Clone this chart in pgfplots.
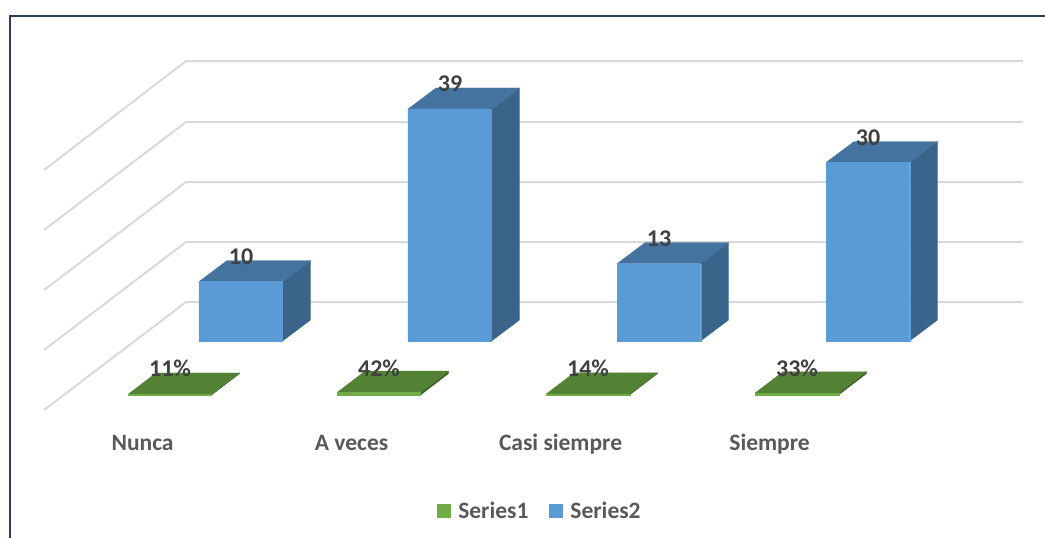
\documentclass[border=0pt]{standalone}
\usepackage{fontspec}
\setmainfont{Carlito}
\usepackage{pgfplots}
\pgfplotsset{compat=1.18}
\definecolor{gridc}{HTML}{D9D9D9}
\definecolor{framec}{HTML}{2F3E5E}
\definecolor{bfront}{HTML}{5B9BD5}
\definecolor{btop}{HTML}{44739F}
\definecolor{bside}{HTML}{3A6489}
\definecolor{gfront}{HTML}{70AD47}
\definecolor{gtop}{HTML}{548235}
\definecolor{gside}{HTML}{3F6128}
\definecolor{lab}{HTML}{404040}
\definecolor{txt}{HTML}{595959}
\pgfplotsset{
  base/.style={
    width=1045pt,height=538pt,scale only axis,
    axis line style={draw=none},tick style={draw=none},
    ytick=\empty,
  },
  face/.style={fill=#1,draw=#1,line width=0.2pt,forget plot},
  vals/.style={only marks,mark=none,forget plot,point meta=explicit symbolic,
    nodes near coords,
    nodes near coords style={anchor=base,yshift=#1,text=lab,
      font=\fontsize{24}{26}\selectfont\bfseries,inner sep=0pt}},
}
\begin{document}
\begin{tikzpicture}
% Series 2 with the walls, the frame and the category names
\begin{axis}[base,
  xmin=-1.15311,xmax=3.84689,ymin=-33.109,ymax=57.311,
  xtick={-0.47100,0.52900,1.52900,2.52900},
  xticklabels={Nunca,A veces,Casi siempre,Siempre},
  xticklabel style={anchor=base,yshift=88pt,inner sep=0pt,text=txt,
    font=\fontsize{23.5}{26}\selectfont\bfseries},
  major tick length=0pt,
  legend style={at={(rel axis cs:0.5167,0.050)},anchor=center,draw=none,fill=none,
    legend columns=2,inner sep=0pt,text=txt,
    font=\fontsize{23.5}{26}\selectfont\bfseries,
    /tikz/every even column/.append style={column sep=19pt}},
  legend image code/.code={\path[draw=none,fill=none] (0pt,0pt) -- (19pt,0pt);\fill[#1,draw=none] (0pt,-7pt) rectangle (14pt,7pt);},
]
% frame
\addplot[framec,line width=2pt,forget plot] coordinates {(-1.1053,-33.109)(-1.1053,54.67)(3.84689,54.67)};
% gridlines
\addplot[gridc,line width=2pt,forget plot] coordinates {(-0.94258,-11.597)(-0.26316,6.555)(3.74163,6.555)};
\addplot[gridc,line width=2pt,forget plot] coordinates {(-0.94258,-1.513)(-0.26316,16.639)(3.74163,16.639)};
\addplot[gridc,line width=2pt,forget plot] coordinates {(-0.94258,8.571)(-0.26316,26.723)(3.74163,26.723)};
\addplot[gridc,line width=2pt,forget plot] coordinates {(-0.94258,18.655)(-0.26316,36.807)(3.74163,36.807)};
\addplot[gridc,line width=2pt,forget plot] coordinates {(-0.94258,28.739)(-0.26316,47.059)(3.74163,47.059)};
% bars: side, top, front
\addplot[face=bside] coordinates {(0.199,0)(0.333,3.53)(0.333,13.53)(0.199,10)} -- cycle;
\addplot[face=btop] coordinates {(-0.201,10)(0.199,10)(0.333,13.53)(-0.067,13.53)} -- cycle;
\addplot[face=bside] coordinates {(1.199,0)(1.333,3.53)(1.333,42.53)(1.199,39)} -- cycle;
\addplot[face=btop] coordinates {(0.799,39)(1.199,39)(1.333,42.53)(0.933,42.53)} -- cycle;
\addplot[face=bside] coordinates {(2.199,0)(2.333,3.53)(2.333,16.53)(2.199,13)} -- cycle;
\addplot[face=btop] coordinates {(1.799,13)(2.199,13)(2.333,16.53)(1.933,16.53)} -- cycle;
\addplot[face=bside] coordinates {(3.199,0)(3.333,3.53)(3.333,33.53)(3.199,30)} -- cycle;
\addplot[face=btop] coordinates {(2.799,30)(3.199,30)(3.333,33.53)(2.933,33.53)} -- cycle;
\addplot[ybar,bar width=0.4,bar shift=-0.001,fill=bfront,draw=bfront,line width=0.2pt,forget plot]
  coordinates {(0,10)(1,39)(2,13)(3,30)};
\addplot[vals=17pt] coordinates {(0,10)[10] (1,39)[39] (2,13)[13] (3,30)[30]};
\addlegendimage{gfront}
\addlegendentry{Series1}
\addlegendimage{bfront}
\addlegendentry{Series2}
\end{axis}
% Series 1: same scale, its floor lower on the page
\begin{axis}[base,
  xmin=-0.81340,xmax=4.18660,ymin=-24.034,ymax=66.387,
  xtick=\empty,
]
\addplot[face=gside] coordinates {(0.199,0)(0.333,3.6)(0.333,3.71)(0.199,0.11)} -- cycle;
\addplot[face=gtop] coordinates {(-0.201,0.11)(0.199,0.11)(0.333,3.71)(-0.067,3.71)} -- cycle;
\addplot[face=gside] coordinates {(1.199,0)(1.333,3.6)(1.333,4.02)(1.199,0.42)} -- cycle;
\addplot[face=gtop] coordinates {(0.799,0.42)(1.199,0.42)(1.333,4.02)(0.933,4.02)} -- cycle;
\addplot[face=gside] coordinates {(2.199,0)(2.333,3.6)(2.333,3.74)(2.199,0.14)} -- cycle;
\addplot[face=gtop] coordinates {(1.799,0.14)(2.199,0.14)(2.333,3.74)(1.933,3.74)} -- cycle;
\addplot[face=gside] coordinates {(3.199,0)(3.333,3.6)(3.333,3.93)(3.199,0.33)} -- cycle;
\addplot[face=gtop] coordinates {(2.799,0.33)(3.199,0.33)(3.333,3.93)(2.933,3.93)} -- cycle;
\addplot[ybar,bar width=0.4,bar shift=-0.001,fill=gfront,draw=gfront,line width=0.2pt,forget plot]
  coordinates {(0,0.11)(1,0.42)(2,0.14)(3,0.33)};
\addplot[vals=19pt] coordinates {(0,0)[11\%] (1,0)[42\%] (2,0)[14\%] (3,0)[33\%]};
\end{axis}
\end{tikzpicture}
\end{document}
